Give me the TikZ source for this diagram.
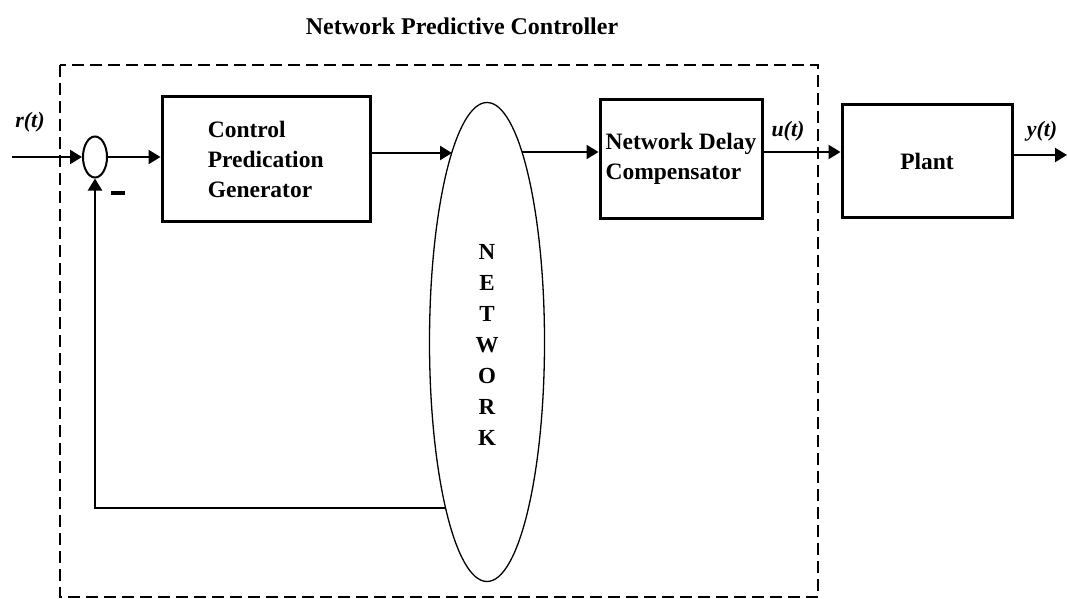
\documentclass[tikz,border=0pt]{standalone}
\usepackage{fontspec}
\setmainfont{Liberation Serif}
\usetikzlibrary{arrows.meta,shapes.geometric,calc}
\tikzset{
  blk/.style={draw,line width=3pt,inner sep=2pt,font=\fontsize{23.5}{30}\selectfont\bfseries},
  conn/.style={line width=2.2pt,-{Triangle[length=12pt,width=14pt]}},
  lbl/.style={font=\fontsize{22}{24}\selectfont\bfseries\itshape},
  netlet/.style={font=\fontsize{23}{24}\selectfont\bfseries}
}
\begin{document}
\begin{tikzpicture}[x=1pt,y=-1pt]
\useasboundingbox (0,0) rectangle (1067,599);
% dashed controller boundary
\draw[line width=2pt,dash pattern=on 12pt off 6pt] (60,65) rectangle (818,597);
\node[font=\fontsize{24}{26}\selectfont\bfseries] (title) at (462,26) {Network Predictive Controller};
% summing junction
\node[draw,ellipse,line width=2pt,minimum width=24pt,minimum height=41pt,inner sep=0pt] (sum) at (95,157) {};
% blocks
\node[blk,minimum width=208pt,minimum height=124pt,align=left] (cpg) at (266,159) {Control\\Predication\\Generator\hspace*{12pt}};
\node[draw,ellipse,line width=1.3pt,minimum width=115pt,minimum height=479pt,inner sep=0pt] (network) at (487,342) {};
\node[blk,minimum width=162pt,minimum height=118pt,align=left,inner sep=1pt] (ndc) at (681,159) {Network Delay\\Compensator};
\node[blk,minimum width=170pt,minimum height=112pt] (plant) at (927,161) {Plant};
% network letters
\foreach \l [count=\i from 0] in {N,E,T,W,O,R,K}
  \node[netlet] (let\i) at (487,{252+31*\i}) {\l};
% connector endpoints
\coordinate (rin) at (12,157);
\coordinate (nin) at ($(network.center)+(-35,-189)$);
\coordinate (nout) at ($(network.center)+(35,-190)$);
\coordinate (nfb) at ($(network.center)+(-42,166)$);
\coordinate (yout) at (1067,155);
% connectors
\draw[conn] (rin) -- (sum.west);
\draw[conn] (sum.east) -- (cpg.west |- sum.east);
\draw[conn] (cpg.east |- nin) -- (nin);
\draw[conn] (nout) -- (ndc.west |- nout);
\draw[conn] (ndc.east |- nout) -- (plant.west |- nout);
\draw[conn] (plant.east |- yout) -- (yout);
\draw[conn] (nfb) -| (sum.south);
% labels
\node[lbl] (rl) at (30,122) {r(t)};
\node[lbl] (ul) at (788,131) {u(t)};
\node[lbl] (yl) at (1042,131) {y(t)};
\node[inner sep=0pt] (minus) at (118,193) {\rule{14pt}{3.5pt}};
\end{tikzpicture}
\end{document}
